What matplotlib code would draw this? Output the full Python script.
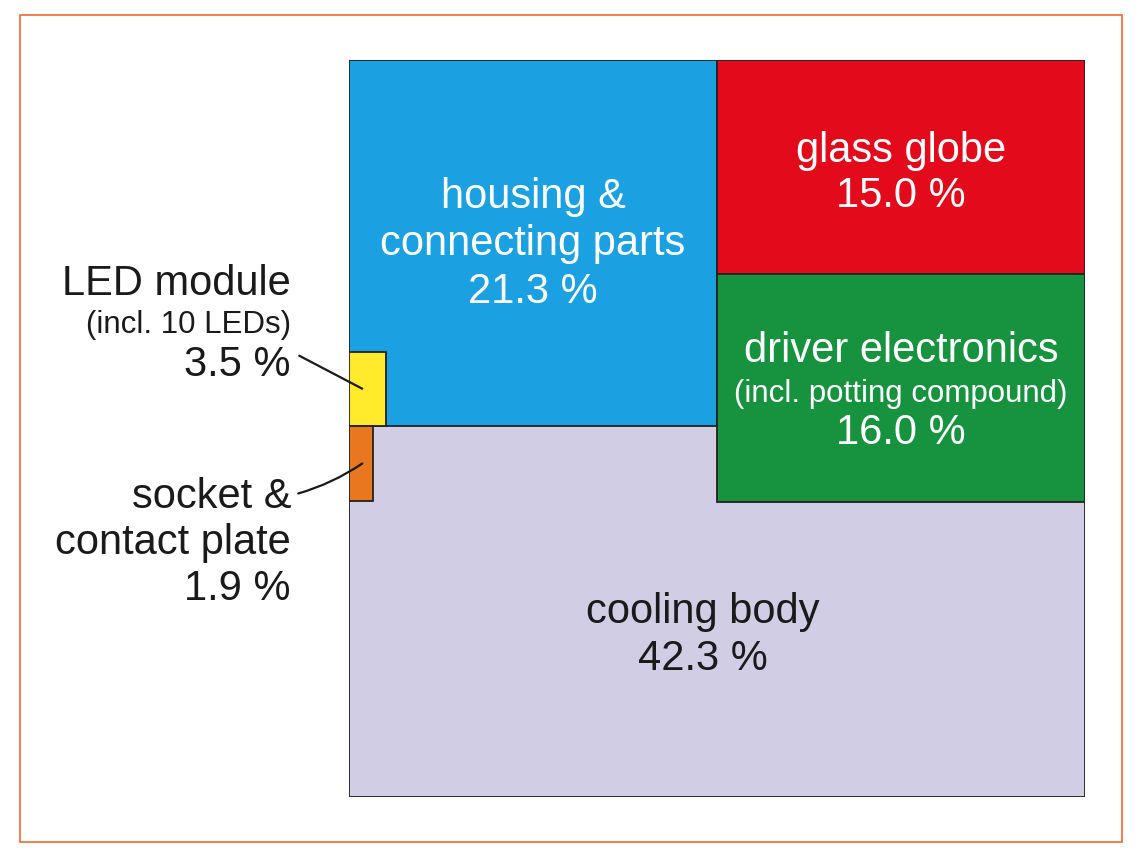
import matplotlib.pyplot as plt
from matplotlib.patches import Rectangle

plt.rcParams['font.family'] = ['Liberation Sans', 'DejaVu Sans']

# shares of the lamp's parts, in percent
parts = ['housing &\nconnecting parts', 'glass globe', 'driver electronics',
         'cooling body', 'LED module', 'socket &\ncontact plate']
notes = ['', '', '(incl. potting compound)', '', '(incl. 10 LEDs)', '']
shares = [21.3, 15.0, 16.0, 42.3, 3.5, 1.9]
colors = ['#1ba1e2', '#e20a1b', '#17933f', '#d0cde5', '#ffea2c', '#e8771f']

housing, glass, driver, cooling, led, socket = shares

fig = plt.figure(figsize=(11.46, 8.58), dpi=100)
fig.patches.append(Rectangle((19.5 / 1146, 1 - 842 / 858), 1102.5 / 1146, 827 / 858,
                             transform=fig.transFigure, fill=False,
                             edgecolor='#ef6a35', lw=1.2))

ax = fig.add_axes([349 / 1146, 1 - 797 / 858, 736 / 1146, 737 / 858])
ax.set_xlim(0, 1)
ax.set_ylim(1, 0)
ax.axis('off')

# layout of the square (fractions of the side)
col_w = 0.5
h_left = (housing + led) / 100 / col_w
right_h = 0.6
h_red = right_h * glass / (glass + driver)
led_w, led_h = 0.05, 0.10
sock_w, sock_h = 0.033, 0.103

edge = dict(edgecolor='#222222', lw=1.3)
boxes = {
    'cooling body': (0, 0, 1, 1),
    'housing &\nconnecting parts': (0, 0, col_w, h_left),
    'glass globe': (col_w, 0, 1 - col_w, h_red),
    'driver electronics': (col_w, h_red, 1 - col_w, right_h - h_red),
    'LED module': (0, h_left - led_h, led_w, led_h),
    'socket &\ncontact plate': (0, h_left, sock_w, sock_h),
}
for name in ['cooling body', 'housing &\nconnecting parts', 'glass globe',
             'driver electronics', 'LED module', 'socket &\ncontact plate']:
    i = parts.index(name)
    x, y, w, h = boxes[name]
    ax.add_patch(Rectangle((x, y), w, h, facecolor=colors[i], **edge))


def put(x, y, rows, color, ha='center'):
    # rows: (dx, baseline offset below anchor in px, text, size)
    for dx, dy, txt, size in rows:
        ax.annotate(txt, (x, y), xytext=(dx, -dy), textcoords='offset pixels',
                    ha=ha, va='baseline', fontsize=size, color=color,
                    annotation_clip=False)


big, small = 30, 22.5
white = '#ffffff'
dark = '#1a1a1a'

# housing
p = parts[0].split('\n')
put(col_w / 2, h_left / 2, [(0, -35, p[0], big), (0, 12, p[1], big),
                            (0, 60, f'{housing:.1f} %', big)], white)
# glass globe
put(col_w + (1 - col_w) / 2, h_red / 2,
    [(0, -5, parts[1], big), (0, 40, f'{glass:.1f} %', big)], white)
# driver
put(col_w + (1 - col_w) / 2, (h_red + right_h) / 2,
    [(0, -26, parts[2], big), (0, 14, notes[2], small),
     (0, 56, f'{driver:.1f} %', big)], white)
# cooling body
put(0.5, (right_h + 1) / 2, [(-14, -27, parts[3], big),
                             (-14, 20, f'{cooling:.1f} %', big)], dark)
# LED module (outside, left)
put(0, h_left - led_h / 2, [(-58, -94, parts[4], big), (-58, -56, notes[4], small),
                            (-58, -13, f'{led:.1f} %', big)], dark, ha='right')
s = parts[5].split('\n')
put(0, h_left + sock_h / 2, [(-58, 44, s[0], big), (-58, 90, s[1], big),
                             (-58, 136, f'{socket:.1f} %', big)], dark, ha='right')

# leader lines
ax.annotate('', xy=(0.018, h_left - led_h / 2), xytext=(-63, 33),
            textcoords='offset pixels',
            arrowprops=dict(arrowstyle='-', color=dark, lw=1.6, shrinkA=0, shrinkB=0))
ax.annotate('', xy=(0.018, h_left + sock_h / 2), xytext=(-64, -30),
            textcoords='offset pixels',
            arrowprops=dict(arrowstyle='-', color=dark, lw=1.6, shrinkA=0, shrinkB=0,
                            connectionstyle='arc3,rad=0.08'))

fig.savefig('out.png', dpi=100, facecolor='white')
